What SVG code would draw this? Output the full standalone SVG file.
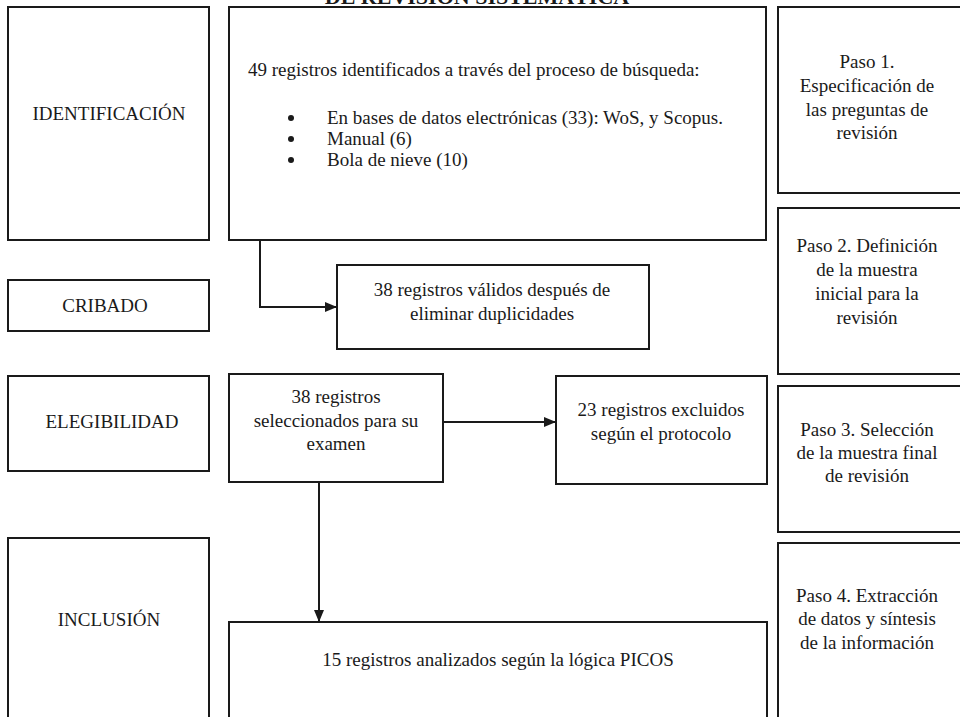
<svg xmlns="http://www.w3.org/2000/svg" width="960" height="717" viewBox="0 0 960 717">
<style>
rect.b{fill:#fff;stroke:#1a1a1a;stroke-width:2}
text{font-family:"Liberation Serif","Times New Roman",serif;font-size:19px;fill:#1a1a1a}
.c{text-anchor:middle}
.t{font-weight:bold;font-size:22px}
.ln{fill:none;stroke:#1a1a1a;stroke-width:2}
</style>
<defs>
<marker id="ah" markerWidth="12" markerHeight="12" refX="11" refY="6" orient="auto" markerUnits="userSpaceOnUse">
<path d="M0,1 L12,6 L0,11 Z" fill="#1a1a1a"/>
</marker>
</defs>
<text class="t c" x="477" y="4">DE REVISIÓN SISTEMÁTICA</text>
<g id="n-identificacion"><rect class="b" x="8" y="7" width="201" height="233"/><text class="c" x="109" y="120">IDENTIFICACIÓN</text></g>
<g id="n-busqueda"><rect class="b" x="229" y="7" width="537" height="233"/>
<text x="248" y="76">49 registros identificados a través del proceso de búsqueda:</text>
<circle cx="291" cy="118" r="3" fill="#1a1a1a"/><text x="327" y="124">En bases de datos electrónicas (33): WoS, y Scopus.</text>
<circle cx="291" cy="139" r="3" fill="#1a1a1a"/><text x="327" y="145">Manual (6)</text>
<circle cx="291" cy="160" r="3" fill="#1a1a1a"/><text x="327" y="166">Bola de nieve (10)</text>
</g>
<g id="n-paso1"><rect class="b" x="778" y="7" width="190" height="186"/>
<text class="c" x="867" y="68">Paso 1.</text><text class="c" x="867" y="92">Especificación de</text><text class="c" x="867" y="116">las preguntas de</text><text class="c" x="867" y="139">revisión</text></g>
<g id="n-paso2"><rect class="b" x="778" y="208" width="190" height="166"/>
<text class="c" x="867" y="252">Paso 2. Definición</text><text class="c" x="867" y="276">de la muestra</text><text class="c" x="867" y="300">inicial para la</text><text class="c" x="867" y="324">revisión</text></g>
<g id="n-paso3"><rect class="b" x="778" y="386" width="190" height="146"/>
<text class="c" x="867" y="436">Paso 3. Selección</text><text class="c" x="867" y="459">de la muestra final</text><text class="c" x="867" y="482">de revisión</text></g>
<g id="n-paso4"><rect class="b" x="778" y="543" width="190" height="190"/>
<text class="c" x="867" y="602">Paso 4. Extracción</text><text class="c" x="867" y="625">de datos y síntesis</text><text class="c" x="867" y="649">de la información</text></g>
<g id="n-cribado"><rect class="b" x="8" y="280" width="201" height="51"/><text class="c" x="105" y="312">CRIBADO</text></g>
<g id="n-validos"><rect class="b" x="337" y="265" width="312" height="84"/>
<text class="c" x="492" y="296">38 registros válidos después de</text><text class="c" x="492" y="320">eliminar duplicidades</text></g>
<g id="n-elegibilidad"><rect class="b" x="8" y="376" width="201" height="95"/><text class="c" x="112" y="428">ELEGIBILIDAD</text></g>
<g id="n-seleccionados"><rect class="b" x="229" y="374" width="214" height="108"/>
<text class="c" x="336" y="403">38 registros</text><text class="c" x="336" y="427">seleccionados para su</text><text class="c" x="336" y="450">examen</text></g>
<g id="n-excluidos"><rect class="b" x="556" y="376" width="211" height="108"/>
<text class="c" x="661" y="416">23 registros excluidos</text><text class="c" x="661" y="440">según el protocolo</text></g>
<g id="n-inclusion"><rect class="b" x="8" y="538" width="201" height="195"/><text class="c" x="109" y="626">INCLUSIÓN</text></g>
<g id="n-picos"><rect class="b" x="229" y="622" width="538" height="111"/><text class="c" x="498" y="666">15 registros analizados según la lógica PICOS</text></g>
<g id="connectors">
<path class="ln" d="M260,240 V307 H336" marker-end="url(#ah)"/>
<path class="ln" d="M443,422 H555" marker-end="url(#ah)"/>
<path class="ln" d="M319,482 V621" marker-end="url(#ah)"/>
</g>
</svg>
